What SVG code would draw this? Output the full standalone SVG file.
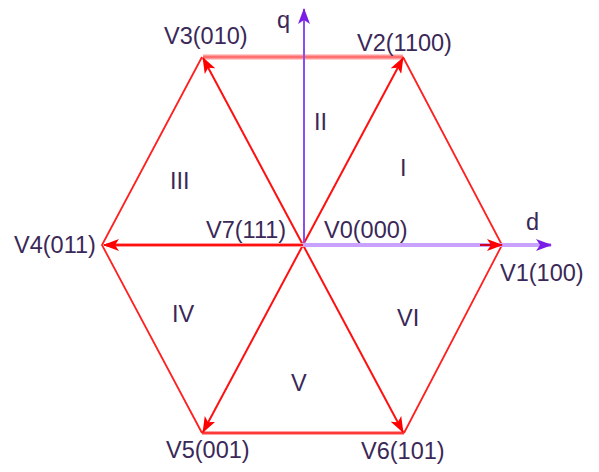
<svg xmlns="http://www.w3.org/2000/svg" width="599" height="472" viewBox="0 0 599 472">
<style>
.lbl{font-family:"Liberation Sans",Arial,sans-serif;font-size:23.5px;fill:#3a2858}
.edge{stroke:#ff2020;stroke-width:1.8;fill:none}
.vec{stroke:#ff1010;stroke-width:2;fill:none;marker-end:url(#ar)}
</style>
<defs>
<marker id="ar" viewBox="0 0 16 12" refX="15" refY="6" markerWidth="16" markerHeight="12" markerUnits="userSpaceOnUse" orient="auto">
<path d="M0,0 L16,6 L0,12 L4,6 z" fill="#ff0000"/>
</marker>
<marker id="ap" viewBox="0 0 16 12" refX="15" refY="6" markerWidth="16" markerHeight="12" markerUnits="userSpaceOnUse" orient="auto">
<path d="M0,0 L16,6 L0,12 L4,6 z" fill="#7a1ee6"/>
</marker>
</defs>
<rect width="599" height="472" fill="#ffffff"/>
<g id="connectors">
<line x1="203" y1="57" x2="403" y2="57" stroke="#ff9a9a" stroke-width="5"/>
<line x1="203" y1="57" x2="403" y2="57" stroke="#ff6060" stroke-width="1.5"/>
<line x1="202" y1="433" x2="404" y2="433" stroke="#ff8080" stroke-width="3.5"/>
<line x1="202" y1="433" x2="404" y2="433" stroke="#ff2020" stroke-width="1.5"/>
<polyline class="edge" points="403,57 502,245 404,433"/>
<polyline class="edge" points="202,57 102,245 202,433"/>
<line class="vec" x1="303" y1="245" x2="403" y2="58"/>
<line class="vec" x1="303" y1="245" x2="203" y2="58"/>
<line class="vec" x1="303" y1="245" x2="203" y2="432"/>
<line class="vec" x1="303" y1="245" x2="403" y2="432"/>
<line x1="303" y1="245" x2="106" y2="245" stroke="#ff9a9a" stroke-width="4"/>
<line class="vec" x1="303" y1="245" x2="104" y2="245"/>
<line x1="304" y1="245" x2="304" y2="9" stroke="#8a4ef0" stroke-width="2" marker-end="url(#ap)"/>
<line x1="303" y1="245" x2="551" y2="245" stroke="#c9a2ff" stroke-width="4"/>
<line x1="540" y1="245" x2="551" y2="245" stroke="#7a1ee6" stroke-width="1" marker-end="url(#ap)"/>
<line x1="480" y1="245" x2="502" y2="245" stroke="#d00020" stroke-width="2" marker-end="url(#ar)"/>
</g>
<g id="axis-q"><text class="lbl" x="277" y="28">q</text></g>
<g id="axis-d"><text class="lbl" x="526" y="230">d</text></g>
<g id="V1"><text class="lbl" x="500" y="281">V1(100)</text></g>
<g id="V2"><text class="lbl" x="357" y="51">V2(1100)</text></g>
<g id="V3"><text class="lbl" x="164" y="44">V3(010)</text></g>
<g id="V4"><text class="lbl" x="14" y="253">V4(011)</text></g>
<g id="V5"><text class="lbl" x="166" y="458">V5(001)</text></g>
<g id="V6"><text class="lbl" x="361" y="459">V6(101)</text></g>
<g id="V7"><text class="lbl" x="206" y="238">V7(111)</text></g>
<g id="V0"><text class="lbl" x="324" y="238">V0(000)</text></g>
<g id="sector-I"><text class="lbl" x="400" y="176">I</text></g>
<g id="sector-II"><text class="lbl" x="314" y="130">II</text></g>
<g id="sector-III"><text class="lbl" x="170" y="189">III</text></g>
<g id="sector-IV"><text class="lbl" x="172" y="322">IV</text></g>
<g id="sector-V"><text class="lbl" x="291" y="391">V</text></g>
<g id="sector-VI"><text class="lbl" x="397" y="326">VI</text></g>
</svg>
